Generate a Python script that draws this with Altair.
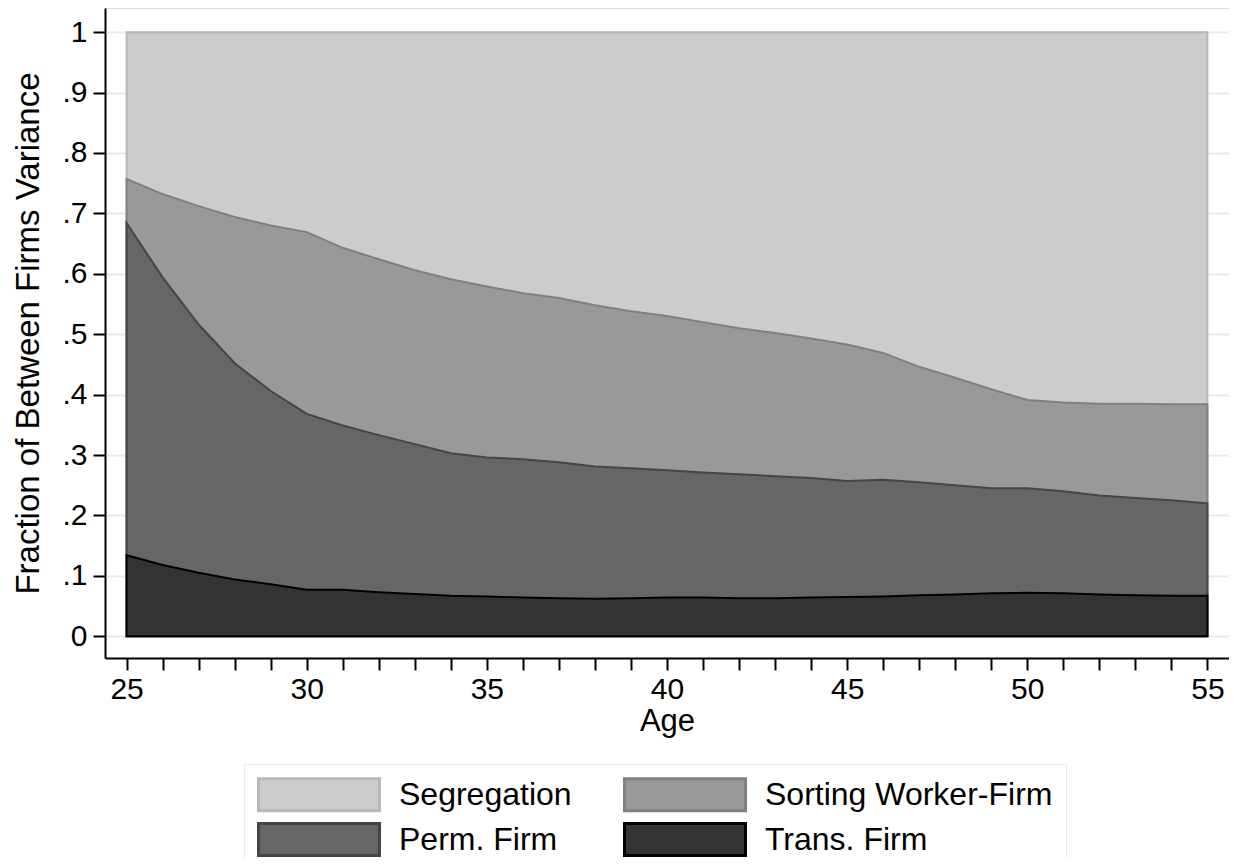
import altair as alt
import pandas as pd

ages = list(range(25, 56))

# cumulative upper boundaries (stacked from the bottom)
trans_top = [0.134, 0.118, 0.105, 0.094, 0.086, 0.077, 0.077, 0.073, 0.070, 0.067,
             0.066, 0.064, 0.063, 0.062, 0.063, 0.064, 0.064, 0.063, 0.063, 0.064,
             0.065, 0.066, 0.068, 0.069, 0.071, 0.072, 0.071, 0.069, 0.068, 0.067, 0.067]
perm_top = [0.684, 0.594, 0.516, 0.452, 0.406, 0.368, 0.349, 0.333, 0.318, 0.303,
            0.296, 0.293, 0.288, 0.281, 0.278, 0.275, 0.271, 0.268, 0.265, 0.262,
            0.257, 0.259, 0.255, 0.250, 0.245, 0.245, 0.240, 0.233, 0.229, 0.225, 0.220]
sorting_top = [0.757, 0.732, 0.712, 0.694, 0.680, 0.669, 0.643, 0.624, 0.606, 0.591,
               0.579, 0.568, 0.560, 0.548, 0.538, 0.530, 0.520, 0.510, 0.502, 0.493,
               0.483, 0.469, 0.446, 0.428, 0.409, 0.391, 0.387, 0.385, 0.385, 0.384, 0.384]
segregation_top = [1.0] * len(ages)

series_names = ["Segregation", "Sorting Worker-Firm", "Perm. Firm", "Trans. Firm"]
fill_colors = ["#cccccc", "#999999", "#666666", "#333333"]
stroke_colors = ["#b8b8b8", "#808080", "#454545", "#000000"]
tops = [segregation_top, sorting_top, perm_top, trans_top]

rows = []
for name, vals in zip(series_names, tops):
    for a, v in zip(ages, vals):
        rows.append({"age": a, "series": name, "top": v})
df = pd.DataFrame(rows)

FONT = "Liberation Sans"

x_enc = alt.X("age:Q",
              scale=alt.Scale(domain=[24.4, 55.6], nice=False, zero=False),
              axis=alt.Axis(values=ages, title="Age",
                            labelExpr="datum.value % 5 == 0 ? datum.label : ''",
                            grid=False, tickSize=12, tickWidth=2, tickColor="black",
                            domainColor="black", domainWidth=2,
                            labelFontSize=30, titleFontSize=31, labelPadding=4,
                            titlePadding=2, labelFont=FONT, titleFont=FONT,
                            labelColor="black", titleColor="black",
                            titleFontWeight="normal", labelFlush=False))
y_enc = alt.Y("top:Q",
              scale=alt.Scale(domain=[-0.036, 1.04], nice=False, zero=False),
              axis=alt.Axis(values=[i / 10 for i in range(11)],
                            title="Fraction of Between Firms Variance",
                            labelExpr="datum.value == 0 ? '0' : (datum.value == 1 ? '1' : replace(format(datum.value, '.1f'), '0.', '.'))",
                            grid=True, gridColor="#e2ecec", gridWidth=2,
                            tickSize=12, tickWidth=2, tickColor="black",
                            domainColor="black", domainWidth=2,
                            labelFontSize=30, titleFontSize=33, labelPadding=6,
                            titlePadding=16, labelFont=FONT, titleFont=FONT,
                            labelColor="black", titleColor="black",
                            titleFontWeight="normal", labelFlush=False))

legend_kw = dict(title=None, orient="none", legendX=139, legendY=756,
                 columns=2, direction="horizontal",
                 symbolType="M-1,-1H6.5625V1H-1Z",
                 symbolSize=1024, symbolStrokeWidth=3,
                 labelFontSize=32, labelFont=FONT, labelColor="black",
                 labelOffset=107, columnPadding=46, rowPadding=0,
                 padding=13, strokeColor="#e2ecec", fillColor="white",
                 labelLimit=400, symbolOpacity=1)

fill_enc = alt.Fill("series:N",
                    scale=alt.Scale(domain=series_names, range=fill_colors),
                    legend=alt.Legend(**legend_kw))
stroke_enc = alt.Stroke("series:N",
                        scale=alt.Scale(domain=series_names, range=stroke_colors),
                        legend=alt.Legend(**legend_kw))

layers = []
for name in series_names:
    layers.append(
        alt.Chart(df).transform_filter(alt.datum.series == name)
        .mark_area(strokeWidth=2, fillOpacity=1, interpolate="linear")
        .encode(x=x_enc, y=y_enc, fill=fill_enc, stroke=stroke_enc)
    )

chart = alt.layer(*layers).properties(
    width=1124, height=650,
    autosize=alt.AutoSizeParams(type="none"),
    padding={"left": 97, "top": 0, "right": 0, "bottom": 200},
).configure_view(stroke=None).configure(background="white")

chart.save("out.html", embed_options={"renderer": "svg", "actions": False})
